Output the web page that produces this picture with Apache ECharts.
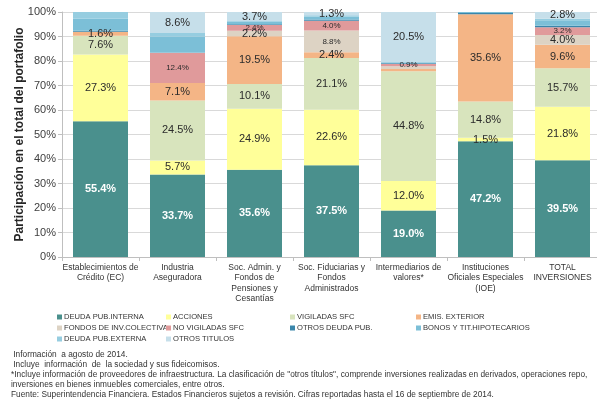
<!DOCTYPE html>
<html>
<head>
<meta charset="utf-8">
<script src="https://cdn.jsdelivr.net/npm/echarts@6/dist/echarts.min.js"></script>
<style>
html,body{margin:0;padding:0;background:#fff}
#main{width:597px;height:403px}
</style>
</head>
<body>
<div id="main"></div>
<script>
// categorias del eje x
var categorias = ['Establecimientos de\nCrédito (EC)', 'Industria\nAseguradora', 'Soc. Admin. y\nFondos de\nPensiones y\nCesantías',
    'Soc. Fiduciarias y\nFondos\nAdministrados', 'Intermediarios de\nvalores*', 'Instituciones\nOficiales Especiales\n(IOE)', 'TOTAL\nINVERSIONES'];
var yTicks = [0, 10, 20, 30, 40, 50, 60, 70, 80, 90, 100];

// participacion (%) por tipo de inversion
var deudaInterna = [55.4, 33.7, 35.6, 37.5, 19.0, 47.2, 39.5];
var acciones     = [27.3, 5.7, 24.9, 22.6, 12.0, 1.5, 21.8];
var vigiladas    = [7.6, 24.5, 10.1, 21.1, 44.8, 14.8, 15.7];
var emisExterior = [1.6, 7.1, 19.5, 2.4, 0.9, 35.6, 9.6];
var fondosInv    = [0, 0, 2.2, 8.8, 1.2, 0, 4.0];
var noVigiladas  = [0, 12.4, 2.4, 4.0, 0.9, 0, 3.2];
var otrosDeuda   = [0.4, 0, 0.3, 0.5, 0.3, 0.5, 0.6];
var bonos        = [4.9, 6.5, 1.0, 1.3, 0.4, 0.4, 2.2];
var deudaExterna = [2.8, 1.5, 0.3, 0.5, 0, 0, 0.6];
var otrosTitulos = [0, 8.6, 3.7, 1.3, 20.5, 0, 2.8];

var notas = [
    ' Información  a agosto de 2014.',
    ' Incluye  información  de  la sociedad y sus fideicomisos.',
    '*Incluye información de proveedores de infraestructura. La clasificación de "otros títulos", comprende inversiones realizadas en derivados, operaciones repo,',
    'inversiones en bienes inmuebles comerciales, entre otros.',
    'Fuente: Superintendencia Financiera. Estados Financieros sujetos a revisión. Cifras reportadas hasta el 16 de septiembre de 2014.'
];

// nombre, datos, color, minimo para etiqueta (null = sin etiqueta)
var capas = [
    ['DEUDA PUB.INTERNA', deudaInterna, '#4a908d', 0],
    ['ACCIONES', acciones, '#ffff99', 0],
    ['VIGILADAS SFC', vigiladas, '#d8e4bd', 0],
    ['EMIS. EXTERIOR', emisExterior, '#f4b586', 1],
    ['FONDOS DE INV.COLECTIVA', fondosInv, '#ddd3c4', 2],
    ['NO VIGILADAS SFC', noVigiladas, '#e09a9b', 0],
    ['OTROS DEUDA PUB.', otrosDeuda, '#3a86ab', null],
    ['BONOS Y TIT.HIPOTECARIOS', bonos, '#7cbfd7', null],
    ['DEUDA PUB.EXTERNA', deudaExterna, '#96cde0', null],
    ['OTROS TITULOS', otrosTitulos, '#c6dfea', 0]
];

var chart = echarts.init(document.getElementById('main'));

var series = capas.map(function (c, si) {
    return {
        name: c[0],
        type: 'bar',
        stack: 'total',
        barWidth: 55,
        itemStyle: { color: c[2] },
        data: c[1].map(function (v) {
            var show = c[3] !== null && v > 0 && v >= c[3];
            var small = (si === 5 || v < 1 || (si === 4 && v > 8));
            return {
                value: v,
                label: {
                    show: show,
                    position: 'inside',
                    formatter: function (p) { return p.value.toFixed(1) + '%'; },
                    fontFamily: 'Liberation Sans',
                    fontSize: small ? 8 : 11,
                    fontWeight: si === 0 ? 'bold' : 'normal',
                    color: si === 0 ? '#ffffff' : '#2b2b2b'
                }
            };
        })
    };
});

// leyenda en 4 columnas
var columnas = [
    [['DEUDA PUB.INTERNA', 'FONDOS DE INV.COLECTIVA', 'DEUDA PUB.EXTERNA'], 57],
    [['ACCIONES', 'NO VIGILADAS SFC', 'OTROS TITULOS'], 166],
    [['VIGILADAS SFC', 'OTROS DEUDA PUB.'], 290],
    [['EMIS. EXTERIOR', 'BONOS Y TIT.HIPOTECARIOS'], 416]
];
var legends = columnas.map(function (col) {
    return {
        data: col[0],
        orient: 'vertical',
        left: col[1],
        top: 313,
        icon: 'rect',
        itemWidth: 5,
        itemHeight: 5,
        itemGap: 3,
        padding: 0,
        selectedMode: false,
        textStyle: { fontFamily: 'Liberation Sans', fontSize: 7.6, color: '#333', padding: [0, 0, 0, -3] }
    };
});

var graphics = notas.map(function (t, i) {
    return {
        type: 'text',
        left: 11,
        top: 351 + i * 10,
        style: { text: t, font: '8.3px "Liberation Sans"', fill: '#333' }
    };
});

option = {
    animation: false,
    backgroundColor: '#ffffff',
    legend: legends,
    graphic: graphics,
    grid: {
        left: 62,
        top: 12,
        width: 539,
        height: 245,
        outerBoundsMode: 'none'
    },
    xAxis: {
        type: 'category',
        data: categorias,
        axisLine: { lineStyle: { color: '#bfbfbf', width: 1 } },
        axisTick: { show: true, length: 4, lineStyle: { color: '#bfbfbf' } },
        axisLabel: {
            interval: 0,
            margin: 5,
            fontFamily: 'Liberation Sans',
            fontSize: 8.5,
            lineHeight: 10.5,
            color: '#333'
        }
    },
    yAxis: {
        type: 'value',
        min: yTicks[0],
        max: yTicks[yTicks.length - 1],
        interval: 10,
        name: 'Participación en el total del portafolio',
        nameLocation: 'middle',
        nameGap: 36,
        nameMoveOverlap: false,
        nameTextStyle: { fontFamily: 'Liberation Sans', fontSize: 12, fontWeight: 'bold', color: '#262626' },
        axisLine: { show: true, lineStyle: { color: '#bfbfbf' } },
        axisTick: { show: true, length: 4, lineStyle: { color: '#bfbfbf' } },
        axisLabel: { formatter: '{value}%', fontFamily: 'Liberation Sans', fontSize: 11, color: '#404040', margin: 6 },
        splitLine: { lineStyle: { color: '#d9d9d9', width: 1 } }
    },
    series: series
};

chart.setOption(option);
</script>
</body>
</html>
